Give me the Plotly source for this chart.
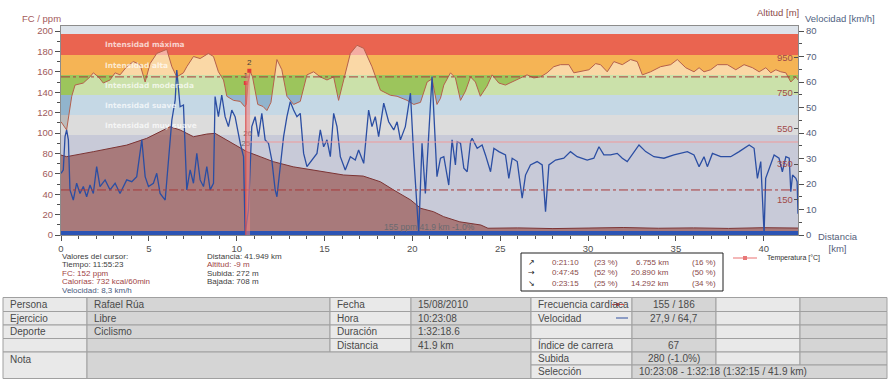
import plotly.graph_objects as go

# ---------------------------------------------------------------- data
HR_KM = [0, 0.32, 0.61, 0.80, 1.27, 1.65, 1.84, 2.13, 2.41, 2.79, 3.08, 3.36, 3.74, 4.12, 4.50, 4.79,
         5.07, 5.45, 6.02, 6.31, 6.59, 6.97, 7.16, 7.54, 7.92, 8.39, 8.68, 8.96, 9.25, 9.44, 9.82, 10.20,
         10.45, 10.55, 10.65, 10.78, 10.90, 11.20, 11.50, 11.72, 11.95, 12.29, 12.57, 12.86, 13.24, 13.62,
         14.00, 14.38, 14.76, 15.14, 15.52, 15.80, 16.09, 16.47, 16.85, 17.23, 17.70, 18.18, 18.75, 19.13,
         19.70, 20.08, 20.46, 20.84, 21.12, 21.40, 21.60, 21.79, 22.17, 22.45, 22.74, 23.02, 23.31, 23.59,
         23.87, 24.25, 24.54, 24.92, 25.30, 25.68, 26.15, 26.53, 26.91, 27.29, 27.67, 28.05, 28.43, 28.91,
         29.19, 29.57, 30.05, 30.43, 30.71, 31.09, 31.47, 31.95, 32.42, 32.80, 33.09, 33.56, 34.13, 34.70,
         35.08, 35.56, 36.03, 36.32, 36.60, 36.98, 37.36, 37.93, 38.41, 38.88, 39.36, 39.74, 40.12, 40.40,
         40.69, 40.97, 41.26, 41.54, 41.83, 41.95]
HR = [111, 103, 136, 147, 149, 155, 159, 155, 149, 152, 159, 157, 165, 170, 167, 150,
      168, 178, 182, 165, 155, 159, 165, 175, 173, 178, 175, 160, 152, 136, 132, 131,
      126, 128, 150, 160, 155, 128, 126, 122, 130, 172, 162, 136, 128, 131,
      157, 160, 155, 152, 155, 132, 152, 178, 186, 183, 165, 142, 137, 136,
      132, 128, 130, 150, 153, 128, 134, 147, 159, 154, 132, 141, 155, 150,
      136, 146, 157, 149, 147, 150, 154, 157, 154, 155, 159, 165, 167, 167,
      159, 160, 162, 168, 167, 160, 170, 167, 172, 170, 157, 160, 165, 167,
      172, 164, 160, 164, 160, 162, 167, 167, 162, 167, 164, 160, 164, 159,
      162, 160, 159, 150, 155, 152]

SPD_KM = [0, 0.13, 0.23, 0.32, 0.42, 0.51, 0.70, 0.89, 1.08, 1.27,
          1.46, 1.65, 1.84, 2.03, 2.22, 2.51, 2.79, 3.08, 3.36, 3.74,
          4.03, 4.31, 4.60, 4.79, 4.98, 5.26, 5.45, 5.64, 5.93, 6.12,
          6.31, 6.50, 6.59, 6.78, 6.97, 7.16, 7.35, 7.54, 7.73, 7.92,
          8.11, 8.30, 8.49, 8.68, 8.77, 8.96, 9.15, 9.34, 9.53, 9.72,
          9.91, 10.20, 10.39, 10.48, 10.67, 10.86, 11.05, 11.24, 11.43, 11.62,
          11.81, 12.00, 12.19, 12.29, 12.48, 12.67, 12.86, 13.05, 13.24, 13.43,
          13.62, 13.81, 14.00, 14.28, 14.57, 14.76, 14.95, 15.14, 15.33, 15.52,
          15.71, 15.90, 16.18, 16.47, 16.75, 16.94, 17.23, 17.51, 17.70, 17.89,
          18.08, 18.37, 18.65, 18.94, 19.13, 19.32, 19.60, 19.89, 20.08, 20.36,
          20.55, 20.74, 20.93, 21.12, 21.40, 21.60, 21.79, 21.98, 22.07, 22.26,
          22.45, 22.55, 22.74, 22.93, 23.12, 23.31, 23.40, 23.69, 23.97, 24.16,
          24.45, 24.64, 24.92, 25.30, 25.49, 25.68, 25.97, 26.25, 26.44, 26.72,
          27.10, 27.39, 27.58, 27.77, 28.15, 28.62, 29.00, 29.38, 29.95, 30.33,
          30.62, 30.90, 31.28, 31.66, 31.95, 32.23, 32.61, 32.90, 33.28, 33.75,
          34.32, 34.89, 35.65, 36.03, 36.32, 36.60, 36.79, 37.08, 37.55, 38.12,
          38.60, 38.88, 39.17, 39.45, 39.64, 39.83, 40.02, 40.11, 40.40, 40.59,
          40.87, 41.06, 41.26, 41.45, 41.54, 41.64, 41.83, 41.90, 41.95]
SPD = [24.2, 25.5, 38.6, 41.2, 37.3, 17.7, 13.7, 20.3, 16.3, 19.0,
       15.0, 19.6, 16.3, 26.8, 19.0, 21.6, 17.7, 20.3, 16.3, 21.6,
       20.9, 22.9, 37.3, 22.9, 19.0, 20.3, 24.2, 16.3, 13.7, 28.1,
       45.1, 53.0, 64.7, 50.3, 51.0, 17.7, 25.5, 20.3, 32.0, 21.6,
       19.0, 26.8, 17.7, 20.3, 54.3, 46.4, 54.9, 46.4, 42.5, 49.0,
       46.4, 36.0, 30.7, 0.5, 9.8, 42.5, 46.4, 38.6, 47.7, 37.3,
       36.0, 29.4, 17.7, 15.0, 28.1, 38.6, 46.4, 52.3, 49.0, 46.4,
       47.7, 32.0, 26.8, 29.4, 32.0, 41.2, 34.6, 37.3, 30.7, 47.7,
       42.5, 30.7, 25.5, 30.7, 29.4, 33.3, 28.1, 49.0, 42.5, 46.4,
       38.6, 51.7, 44.4, 41.2, 44.4, 37.3, 42.5, 55.6, 30.7, 0.5,
       36.0, 16.3, 41.2, 62.1, 22.9, 30.1, 30.7, 22.2, 19.6, 37.3,
       27.5, 36.6, 36.0, 26.2, 24.8, 36.6, 37.9, 34.0, 35.3, 31.4,
       24.8, 34.0, 32.7, 31.4, 22.2, 30.1, 28.8, 14.4, 23.5, 27.5,
       28.8, 27.5, 9.1, 27.5, 29.4, 30.1, 32.7, 30.7, 29.4, 30.1,
       34.6, 31.4, 31.4, 32.0, 30.1, 28.8, 32.7, 35.3, 32.7, 30.7,
       30.1, 31.4, 32.7, 31.4, 26.8, 30.7, 26.8, 32.0, 30.7, 30.7,
       32.7, 34.0, 35.3, 34.0, 22.2, 28.8, 0.5, 22.2, 27.5, 31.4,
       30.1, 24.8, 30.7, 30.1, 17.0, 23.5, 22.2, 20.9, 8.3]

ALT_KM = [0, 0.32, 1.84, 3.74, 4.88, 5.64, 6.21, 6.78, 7.54, 8.30,
          8.77, 9.44, 10.58, 11.34, 12.08, 13.22, 15.14, 16.09, 17.20, 18.18,
          18.93, 19.90, 20.47, 21.20, 21.78, 22.70, 23.90, 24.30, 26.0, 28.0,
          30.0, 32.0, 34.0, 36.0, 38.0, 40.0, 41.95]
ALT = [401, 392, 420, 457, 495, 532, 560, 542, 504, 519,
       523, 485, 420, 392, 364, 335, 307, 289, 283, 251,
       205, 149, 102, 83, 55, 26, 8, -10, -8, -12,
       -9, -6, -10, -8, -11, -7, -9]

TEMP_KM = [10.62, 20.0, 30.0, 41.95]
TEMP = [25.5, 25.5, 25.5, 25.5]
TEMP_LBL_KM = [10.62, 10.52]
TEMP_LBL_VAL = [26.3, 25.3]
TEMP_LBL = ["26", "25"]

ZONE_BOUNDS = [98, 117.6, 137.2, 156.8, 176.4, 197]
ZONE_NAMES = ["Intensidad muy suave", "Intensidad suave", "Intensidad moderada",
              "Intensidad alta", "Intensidad máxima"]
HR_AVG = 155
ALT_AVG = 205
CURSOR_KM = [10.52, 10.72]
CURSOR_HR = [149, 161]
CURSOR_LBL = ["1", "2"]

X_TICKS = [0, 5, 10, 15, 20, 25, 30, 35, 40]
X_MINOR = list(range(0, 42))
HR_TICKS = [0, 20, 40, 60, 80, 100, 120, 140, 160, 180, 200]
HR_MINOR = list(range(0, 201, 10))
SPD_TICKS = [0, 10, 20, 30, 40, 50, 60, 70, 80]
SPD_MINOR = list(range(0, 81, 5))
ALT_TICKS = [150, 350, 550, 750, 950]

CURSOR_INFO = ["Valores del cursor:", "Tiempo: 11:55:23", "FC: 152 ppm",
               "Calorías: 732 kcal/60min", "Velocidad: 8,3 km/h"]
TOTAL_INFO = ["Distancia: 41.949 km", "Altitud: -9 m", "Subida: 272 m", "Bajada: 708 m"]
SLOPE_ARROWS = ["↗", "→", "↘"]
SLOPE_TIME = ["0:21:10", "0:47:45", "0:23:15"]
SLOPE_TIME_PCT = ["(23 %)", "(52 %)", "(25 %)"]
SLOPE_DIST = ["6.755 km", "20.890 km", "14.292 km"]
SLOPE_DIST_PCT = ["(16 %)", "(50 %)", "(34 %)"]

TABLE_CELLS = [
    (0, 1, 0, 1, "Persona"), (0, 1, 1, 2, "Rafael Rúa"), (0, 1, 2, 3, "Fecha"), (0, 1, 3, 4, "15/08/2010"),
    (0, 1, 4, 5, "Frecuencia cardíaca"), (0, 1, 5, 6, "155 / 186"), (0, 1, 6, 7, ""), (0, 1, 7, 8, ""),
    (1, 2, 0, 1, "Ejercicio"), (1, 2, 1, 2, "Libre"), (1, 2, 2, 3, "Hora"), (1, 2, 3, 4, "10:23:08"),
    (1, 2, 4, 5, "Velocidad"), (1, 2, 5, 6, "27,9 / 64,7"), (1, 2, 6, 7, ""), (1, 2, 7, 8, ""),
    (2, 3, 0, 1, "Deporte"), (2, 3, 1, 2, "Ciclismo"), (2, 3, 2, 3, "Duración"), (2, 3, 3, 4, "1:32:18.6"),
    (2, 3, 4, 5, ""), (2, 3, 5, 6, ""), (2, 3, 6, 7, ""), (2, 3, 7, 8, ""),
    (3, 4, 0, 1, ""), (3, 4, 1, 2, ""), (3, 4, 2, 3, "Distancia"), (3, 4, 3, 4, "41.9 km"),
    (3, 4, 4, 5, "Índice de carrera"), (3, 4, 5, 6, "67"), (3, 4, 6, 7, ""), (3, 4, 7, 8, ""),
    (4, 6, 0, 1, "Nota"), (4, 6, 1, 4, ""),
    (4, 5, 4, 5, "Subida"), (4, 5, 5, 6, "280 (-1.0%)"), (4, 5, 6, 7, ""), (4, 5, 7, 8, ""),
    (5, 6, 4, 5, "Selección"), (5, 6, 5, 8, "10:23:08 - 1:32:18 (1:32:15 / 41.9 km)"),
]

# ---------------------------------------------------------------- geometry / style
W, H = 890, 380
L, R, T, B = 61, 92, 26, 145
PW, PH = W - L - R, H - T - B
X_MAX = 41.95
HR_MAX = 204.9
SPD_MAX = HR_MAX / 2.5
ALT_RANGE = [-48, 1126]
TEMP_RANGE = [16.2, 37.1]
FONT = "Liberation Sans, Arial, sans-serif"
ZONE_COLORS = ["#bcbcbc", "#91b4cd", "#9cc55c", "#f5b455", "#ea6450"]
TAB_COLS = [3, 87, 330, 411, 531, 632, 716, 800, 887]
TAB_ROWS = [297.5, 311.5, 325, 338.5, 352, 365, 378.5]


def fx(p):
    return (p - L) / PW


def fy(p):
    return (H - B - p) / PH


def ann(xp, yp, text, size=8, color="#404040", xanchor="left", family=FONT, yanchor="middle"):
    return dict(x=fx(xp), y=fy(yp), xref="paper", yref="paper", text=text, showarrow=False,
                xanchor=xanchor, yanchor=yanchor, font=dict(size=size, color=color, family=family))


def rect_px(x0, y0, x1, y1, fill, line="rgba(0,0,0,0)", lw=0):
    return dict(type="rect", xref="paper", yref="paper", x0=fx(x0), x1=fx(x1), y0=fy(y1), y1=fy(y0),
                fillcolor=fill, line=dict(color=line, width=lw), layer="above")


def line_px(x0, y0, x1, y1, color, width=1):
    return dict(type="line", xref="paper", yref="paper", x0=fx(x0), x1=fx(x1), y0=fy(y0), y1=fy(y1),
                line=dict(color=color, width=width), layer="above")


fig = go.Figure()

# HR light overlay (fill between HR curve and zone bottom)
fig.add_trace(go.Scatter(x=[0, X_MAX], y=[ZONE_BOUNDS[0]] * 2, mode="lines", line=dict(width=0),
                         hoverinfo="skip", yaxis="y"))
fig.add_trace(go.Scatter(x=HR_KM, y=HR, mode="lines", line=dict(color="#b5604c", width=1),
                         fill="tonexty", fillcolor="rgba(255,255,255,0.48)", yaxis="y"))
# altitude
fig.add_trace(go.Scatter(x=[0, X_MAX], y=[ALT_RANGE[0]] * 2, mode="lines", line=dict(width=0),
                         hoverinfo="skip", yaxis="y2"))
fig.add_trace(go.Scatter(x=ALT_KM, y=ALT, mode="lines", line=dict(color="#7c3434", width=1),
                         fill="tonexty", fillcolor="rgba(156,94,91,0.74)", yaxis="y2"))
# speed
fig.add_trace(go.Scatter(x=SPD_KM, y=SPD, mode="lines", line=dict(color="#2b4ea3", width=1.3),
                         yaxis="y3"))
# temperature
fig.add_trace(go.Scatter(x=TEMP_KM, y=TEMP, mode="lines", line=dict(color="#f09a9a", width=1),
                         yaxis="y4"))
fig.add_trace(go.Scatter(x=TEMP_LBL_KM, y=TEMP_LBL_VAL, mode="text", text=TEMP_LBL,
                         textfont=dict(size=8, color="#707070", family=FONT), yaxis="y4"))
# cursor markers
fig.add_trace(go.Scatter(x=CURSOR_KM, y=CURSOR_HR, mode="markers+text", text=CURSOR_LBL,
                         textposition="top center",
                         marker=dict(symbol="square", size=4, color="#e03a3a"),
                         textfont=dict(size=8, color="#404040", family=FONT), yaxis="y5"))

shapes = []
# top strip and zones
shapes.append(dict(type="rect", xref="x", yref="y", x0=0, x1=X_MAX, y0=ZONE_BOUNDS[-1], y1=HR_MAX,
                   fillcolor="#dde3ea", line=dict(width=0), layer="below"))
for i, c in enumerate(ZONE_COLORS):
    shapes.append(dict(type="rect", xref="x", yref="y", x0=0, x1=X_MAX, y0=ZONE_BOUNDS[i],
                       y1=ZONE_BOUNDS[i + 1], fillcolor=c, line=dict(width=0), layer="below"))
# averages
shapes.append(dict(type="line", xref="x", yref="y", x0=0, x1=X_MAX, y0=HR_AVG, y1=HR_AVG,
                   line=dict(color="#a83a3a", width=1, dash="dashdot"), layer="above"))
shapes.append(dict(type="line", xref="x", yref="y2", x0=0, x1=X_MAX, y0=ALT_AVG, y1=ALT_AVG,
                   line=dict(color="#a83a3a", width=1, dash="dashdot"), layer="above"))
# selection bar at bottom
shapes.append(dict(type="rect", xref="x", yref="y", x0=0, x1=X_MAX, y0=0, y1=3.9,
                   fillcolor="#2c54b4", line=dict(width=0), layer="above"))
# cursor band
shapes.append(dict(type="rect", xref="x", yref="y", x0=10.50, x1=10.76, y0=0, y1=158,
                   fillcolor="rgba(238,130,130,0.55)", line=dict(width=0), layer="above"))
shapes.append(dict(type="line", xref="x", yref="y", x0=CURSOR_KM[0], x1=CURSOR_KM[0], y0=0,
                   y1=CURSOR_HR[0], line=dict(color="#d84848", width=1), layer="above"))

annotations = []
# zone labels
for i, name in enumerate(ZONE_NAMES):
    annotations.append(dict(x=fx(103), y=(ZONE_BOUNDS[i] + ZONE_BOUNDS[i + 1]) / 2, xref="paper",
                            yref="y", text=name, showarrow=False, xanchor="left", yanchor="middle",
                            font=dict(size=7.4, color="rgba(255,255,255,0.72)", family="DejaVu Sans",
                                      weight="bold")))
# axis titles
annotations.append(ann(20, 18, "FC / ppm", 9.5, "#a35a5a"))
annotations.append(ann(755, 12, "Altitud [m]", 9.5, "#8c4a4a"))
annotations.append(ann(803, 19, "Velocidad [km/h]", 9.5, "#4f5f82"))
annotations.append(ann(816, 242, "Distancia<br>[km]", 9.5, "#55607a"))
annotations.append(ann(429, 226.5, "155 ppm 41.9 km -1.0%", 8.5, "#6a6a70", xanchor="center"))

# cursor info blocks
info_colors = ["#404040", "#404040", "#a04444", "#a04444", "#4a5a80"]
for k, t in enumerate(CURSOR_INFO):
    annotations.append(ann(60, 256 + 8.6 * k, t, 8, info_colors[k]))
total_colors = ["#404040", "#a04444", "#404040", "#404040"]
for k, t in enumerate(TOTAL_INFO):
    annotations.append(ann(205, 256 + 8.6 * k, t, 8, total_colors[k]))

# slope box
shapes.append(rect_px(521, 253, 723, 291, "white", "#202020", 1))
for k in range(3):
    yy = 262 + 10.7 * k
    annotations.append(ann(531, yy, SLOPE_ARROWS[k], 8, "#202020", "center", "DejaVu Sans"))
    annotations.append(ann(550, yy, SLOPE_TIME[k], 8, "#8a4a4a"))
    annotations.append(ann(592, yy, SLOPE_TIME_PCT[k], 8, "#8a4a4a"))
    annotations.append(ann(671, yy, SLOPE_DIST[k], 8, "#8a4a4a", "right"))
    annotations.append(ann(690, yy, SLOPE_DIST_PCT[k], 8, "#8a4a4a"))

# temperature legend
shapes.append(line_px(733, 258, 757, 258, "#f0a0a0", 1.5))
shapes.append(rect_px(743, 256, 747, 260, "#e87878"))
annotations.append(ann(765, 258, "Temperatura [°C]", 7, "#303030"))

# table
for (r0, r1, c0, c1, txt) in TABLE_CELLS:
    fill = "#e9e9e9" if c0 % 2 == 0 else "#d5d5d5"
    x0, x1 = TAB_COLS[c0], TAB_COLS[c1]
    y0, y1 = TAB_ROWS[r0], TAB_ROWS[r1]
    shapes.append(rect_px(x0, y0, x1, y1, fill, "#a0a0a0", 1))
    if not txt:
        continue
    if txt == "Nota":
        yy = y0 + 7
    else:
        yy = (y0 + y1) / 2
    if c0 == 5 and c1 == 6:
        annotations.append(ann((x0 + x1) / 2, yy, txt, 10, "#4a4a4a", "center"))
    else:
        annotations.append(ann(x0 + 4.5, yy, txt, 10, "#4a4a4a"))
shapes.append(line_px(612, 304.5, 624, 304.5, "#d05050", 1))
shapes.append(rect_px(616, 303, 619, 306, "#d05050"))
shapes.append(line_px(616, 318, 628, 318, "#3050a0", 1))

tick_font = dict(size=9.5, family=FONT)
fig.update_layout(
    width=W, height=H, autosize=False,
    margin=dict(l=L, r=R, t=T, b=B, pad=0),
    paper_bgcolor="white", plot_bgcolor="#c8cad8",
    showlegend=False, hovermode=False,
    xaxis=dict(range=[0, X_MAX], tickmode="array", tickvals=X_TICKS, ticks="outside", ticklen=5,
               tickcolor="#505050", tickfont=dict(color="#505050", **tick_font),
               showline=True, linecolor="#8c8c8c", mirror=True, showgrid=False, zeroline=False,
               minor=dict(tickmode="array", tickvals=X_MINOR, ticks="outside", ticklen=3,
                          tickcolor="#505050")),
    yaxis=dict(range=[0, HR_MAX], tickmode="array", tickvals=HR_TICKS, ticks="outside", ticklen=5,
               tickcolor="#505050", tickfont=dict(color="#a05a5a", **tick_font),
               showline=True, linecolor="#8c8c8c", showgrid=False, zeroline=False,
               minor=dict(tickmode="array", tickvals=HR_MINOR, ticks="outside", ticklen=3,
                          tickcolor="#505050")),
    yaxis2=dict(overlaying="y", side="right", anchor="x", range=ALT_RANGE, tickmode="array",
                tickvals=ALT_TICKS, ticks="inside", ticklen=4, tickcolor="#505050",
                ticklabelposition="inside", tickfont=dict(color="#a24a4a", **tick_font),
                showline=False, showgrid=False, zeroline=False),
    yaxis3=dict(overlaying="y", side="right", anchor="x", range=[0, SPD_MAX], tickmode="array",
                tickvals=SPD_TICKS, ticks="outside", ticklen=5, tickcolor="#505050",
                tickfont=dict(color="#55607a", **tick_font),
                showline=True, linecolor="#8c8c8c", showgrid=False, zeroline=False,
                minor=dict(tickmode="array", tickvals=SPD_MINOR, ticks="outside", ticklen=3,
                           tickcolor="#505050")),
    yaxis4=dict(overlaying="y", range=TEMP_RANGE, visible=False),
    yaxis5=dict(overlaying="y", range=[0, HR_MAX], visible=False),
    shapes=shapes,
    annotations=annotations,
)

fig.write_html("out.html", config={"displayModeBar": False},
               post_script="document.body.style.margin='0';document.body.style.overflow='hidden';")
